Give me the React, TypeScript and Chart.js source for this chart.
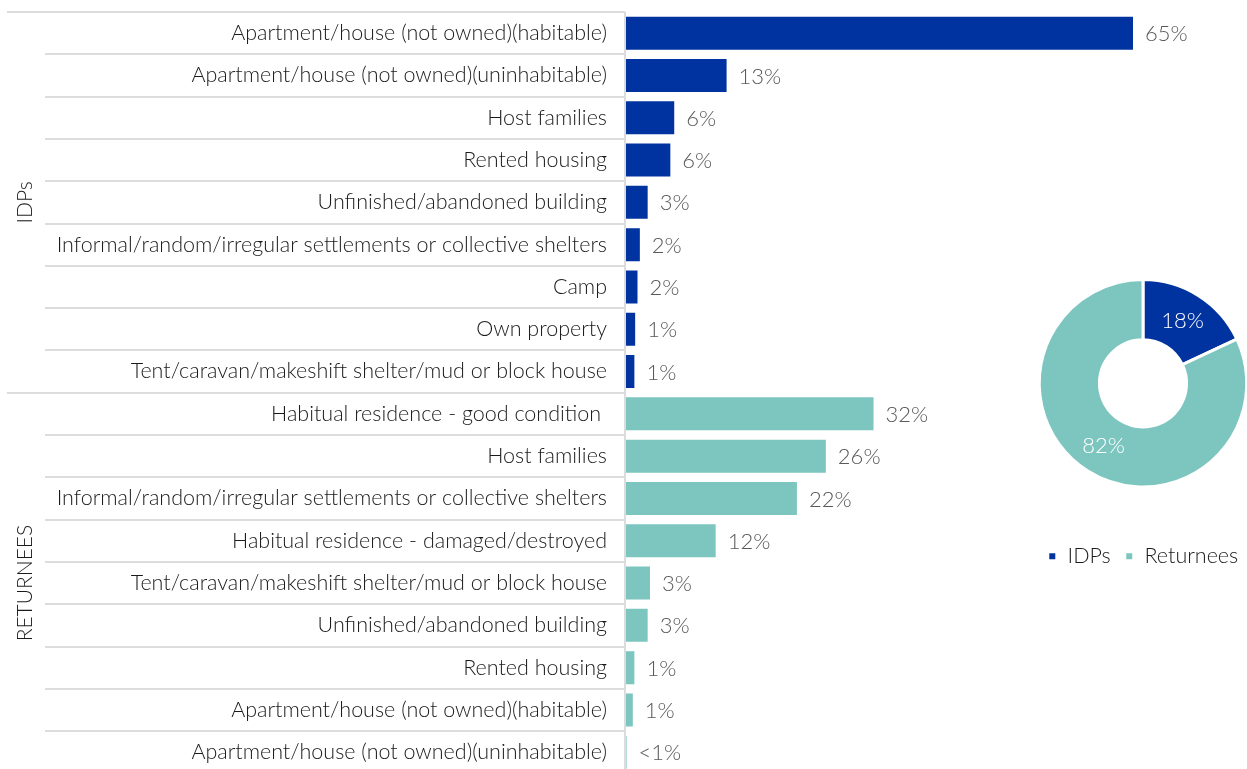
import React, { useEffect, useRef } from "react";
import { Chart, registerables } from "chart.js";

Chart.register(...registerables);

const idpCategories = [
  "Apartment/house (not owned)(habitable)",
  "Apartment/house (not owned)(uninhabitable)",
  "Host families",
  "Rented housing",
  "Unfinished/abandoned building",
  "Informal/random/irregular settlements or collective shelters",
  "Camp",
  "Own property",
  "Tent/caravan/makeshift shelter/mud or block house",
];
const idpValues = [65, 13, 6.3, 5.8, 2.9, 1.9, 1.6, 1.3, 1.2];
const idpValueLabels = ["65%", "13%", "6%", "6%", "3%", "2%", "2%", "1%", "1%"];

const returneeCategories = [
  "Habitual residence - good condition ",
  "Host families",
  "Informal/random/irregular settlements or collective shelters",
  "Habitual residence - damaged/destroyed",
  "Tent/caravan/makeshift shelter/mud or block house",
  "Unfinished/abandoned building",
  "Rented housing",
  "Apartment/house (not owned)(habitable)",
  "Apartment/house (not owned)(uninhabitable)",
];
const returneeValues = [31.8, 25.7, 22, 11.6, 3.2, 2.9, 1.2, 1.0, 0.2];
const returneeValueLabels = ["32%", "26%", "22%", "12%", "3%", "3%", "1%", "1%", "<1%"];

const groupNames = ["IDPs", "RETURNEES"];
const shareLabels = ["IDPs", "Returnees"];
const shareValues = [18, 82];
const shareValueLabels = ["18%", "82%"];

const IDP_COLOR = "#0033a0";
const RET_COLOR = "#7dc6bf";
const FONT = "Lato";

export default function App() {
  const barRef = useRef<HTMLCanvasElement>(null);
  const pieRef = useRef<HTMLCanvasElement>(null);

  useEffect(() => {
    const labels = [...idpCategories, ...returneeCategories];
    const values = [...idpValues, ...returneeValues];
    const valueLabels = [...idpValueLabels, ...returneeValueLabels];
    const colors = labels.map((_, i) => (i < idpCategories.length ? IDP_COLOR : RET_COLOR));

    const barDecor = {
      id: "barDecor",
      afterDraw(chart: any) {
        const ctx = chart.ctx;
        const y = chart.scales.y;
        const area = chart.chartArea;
        const n = labels.length;
        const rowH = (area.bottom - area.top) / n;
        ctx.save();
        ctx.strokeStyle = "#dcdcdc";
        ctx.lineWidth = 2;
        for (let i = 0; i <= n; i++) {
          const py = Math.round(y.getPixelForValue(i) - rowH / 2);
          const startX = i === 0 || i === idpCategories.length ? 7 : 45;
          ctx.beginPath();
          ctx.moveTo(startX, py);
          ctx.lineTo(area.left, py);
          ctx.stroke();
        }
        ctx.beginPath();
        ctx.moveTo(area.left, area.top);
        ctx.lineTo(area.left, area.bottom);
        ctx.stroke();
        const meta = chart.getDatasetMeta(0);
        ctx.fillStyle = "#595959";
        ctx.font = `300 22px ${FONT}`;
        ctx.textAlign = "left";
        ctx.textBaseline = "middle";
        meta.data.forEach((bar: any, i: number) => {
          ctx.fillText(valueLabels[i], bar.x + 12, bar.y + 1);
        });
        ctx.fillStyle = "#1a1a1a";
        ctx.font = `300 21px ${FONT}`;
        ctx.textAlign = "center";
        const groups = [
          [0, idpCategories.length - 1],
          [idpCategories.length, n - 1],
        ];
        groups.forEach(([a, b], gi) => {
          const cy = (y.getPixelForValue(a) + y.getPixelForValue(b)) / 2;
          ctx.save();
          ctx.translate(25, cy);
          ctx.rotate(-Math.PI / 2);
          ctx.fillText(groupNames[gi], 0, 0);
          ctx.restore();
        });
        ctx.restore();
      },
    };

    const bar = new Chart(barRef.current!, {
      type: "bar",
      data: {
        labels,
        datasets: [
          {
            data: values,
            backgroundColor: colors,
            barPercentage: 0.78,
            categoryPercentage: 1,
          },
        ],
      },
      options: {
        indexAxis: "y",
        responsive: false,
        animation: false,
        layout: { padding: { top: 12, bottom: 2.6, right: 12.4, left: 0 } },
        plugins: { legend: { display: false }, tooltip: { enabled: false } },
        scales: {
          x: { display: false, min: 0, max: 78 },
          y: {
            afterFit(scale: any) {
              scale.width = 625;
              scale.paddingTop = 0;
              scale.paddingBottom = 0;
            },
            grid: { display: false, drawTicks: false },
            border: { display: false },
            ticks: {
              padding: 18,
              color: "#1a1a1a",
              font: { family: FONT, size: 21.5, weight: "300" },
              autoSkip: false,
            },
          },
        },
      } as any,
      plugins: [barDecor],
    });

    const pieLabels = {
      id: "pieLabels",
      afterDatasetsDraw(chart: any) {
        const ctx = chart.ctx;
        const meta = chart.getDatasetMeta(0);
        ctx.save();
        ctx.fillStyle = "#ffffff";
        ctx.font = `300 22px ${FONT}`;
        ctx.textAlign = "center";
        ctx.textBaseline = "middle";
        meta.data.forEach((arc: any, i: number) => {
          const p = arc.getCenterPoint();
          ctx.fillText(shareValueLabels[i], p.x, p.y);
        });
        ctx.restore();
      },
    };

    const pie = new Chart(pieRef.current!, {
      type: "doughnut",
      data: {
        labels: shareLabels,
        datasets: [
          {
            data: shareValues,
            backgroundColor: [IDP_COLOR, RET_COLOR],
            borderColor: "#ffffff",
            borderWidth: 3,
          },
        ],
      },
      options: {
        responsive: false,
        animation: false,
        cutout: "42%",
        layout: { padding: { top: 11 } },
        plugins: {
          tooltip: { enabled: false },
          legend: {
            position: "bottom",
            title: {
              display: true,
              text: " ",
              padding: { top: 33, bottom: 0 },
              font: { size: 10, lineHeight: 1 },
            },
            labels: {
              boxWidth: 9,
              boxHeight: 9,
              padding: 14,
              color: "#1a1a1a",
              font: { family: FONT, size: 21.5, weight: "300" },
            },
          },
        },
      } as any,
      plugins: [pieLabels],
    });

    return () => {
      bar.destroy();
      pie.destroy();
    };
  }, []);

  return (
    <div
      style={{
        position: "fixed",
        left: 0,
        top: 0,
        width: 1247,
        height: 769,
        overflow: "hidden",
        background: "#ffffff",
      }}
    >
      <canvas ref={barRef} width={1247} height={776} style={{ position: "absolute", left: 0, top: 0 }} />
      <canvas ref={pieRef} width={240} height={310} style={{ position: "absolute", left: 1023, top: 267 }} />
    </div>
  );
}
